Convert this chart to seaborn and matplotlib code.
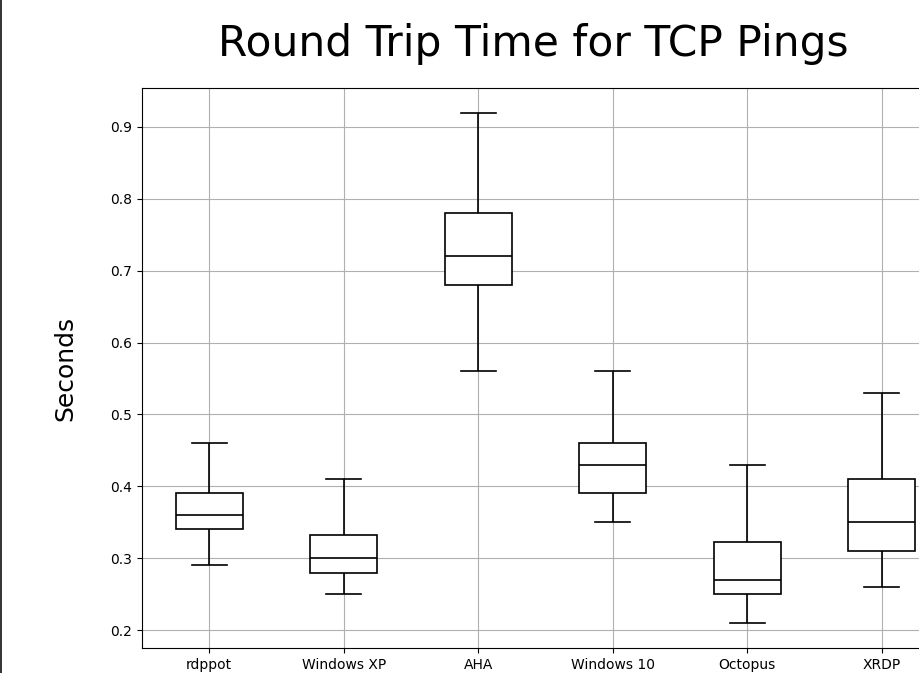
import matplotlib
matplotlib.use("Agg")
import matplotlib.pyplot as plt
import matplotlib.lines as mlines
import pandas as pd
import seaborn as sns

# five-number summaries: min, q1, median, q3, max
systems = ["rdppot", "Windows XP", "AHA", "Windows 10", "Octopus", "XRDP"]
rdppot = [0.29, 0.34, 0.36, 0.39, 0.46]
windows_xp = [0.25, 0.28, 0.30, 0.332, 0.41]
aha = [0.56, 0.68, 0.72, 0.78, 0.92]
windows_10 = [0.35, 0.39, 0.43, 0.46, 0.56]
octopus = [0.21, 0.25, 0.27, 0.322, 0.43]
xrdp = [0.26, 0.31, 0.35, 0.41, 0.53]
y_ticks = [0.2, 0.3, 0.4, 0.5, 0.6, 0.7, 0.8, 0.9]


def build_frame():
    """Long-form table: the five summary points per system give the same
    quartiles back through numpy's linear interpolation."""
    rows = []
    for name, vals in zip(systems, [rdppot, windows_xp, aha, windows_10, octopus, xrdp]):
        for v in vals:
            rows.append({"System": name, "Seconds": v})
    return pd.DataFrame(rows)


def main():
    df = build_frame()
    fig = plt.figure(figsize=(9.19, 6.73), dpi=100)
    ax = fig.add_axes([0.1545, 0.0371, 0.878, 0.832])

    sns.boxplot(data=df, x="System", y="Seconds", order=systems, ax=ax,
                whis=(0, 100), width=0.5, color="white", linecolor="black",
                linewidth=1.2, capwidths=0.26, fliersize=0)

    ax.set_xlim(-0.5, 5.5)
    ax.set_ylim(0.175, 0.954)
    ax.set_yticks(y_ticks)
    ax.set_yticklabels([f"{t:.1f}" for t in y_ticks], fontsize=10)
    ax.tick_params(axis="x", labelsize=10)
    ax.grid(True, color="#b0b0b0", linewidth=0.8)
    ax.set_axisbelow(True)
    ax.set_xlabel("")
    ax.set_ylabel("Seconds", fontsize=18, labelpad=24)

    fig.text(0.58, 0.935, "Round Trip Time for TCP Pings", fontsize=30.5,
             ha="center", va="center")

    # thin frame edge visible on the left of the original
    fig.add_artist(mlines.Line2D([0.001, 0.001], [0, 1], color="#111111",
                                 linewidth=1.2, transform=fig.transFigure))

    fig.savefig("out.png", dpi=100)


if __name__ == "__main__":
    main()
